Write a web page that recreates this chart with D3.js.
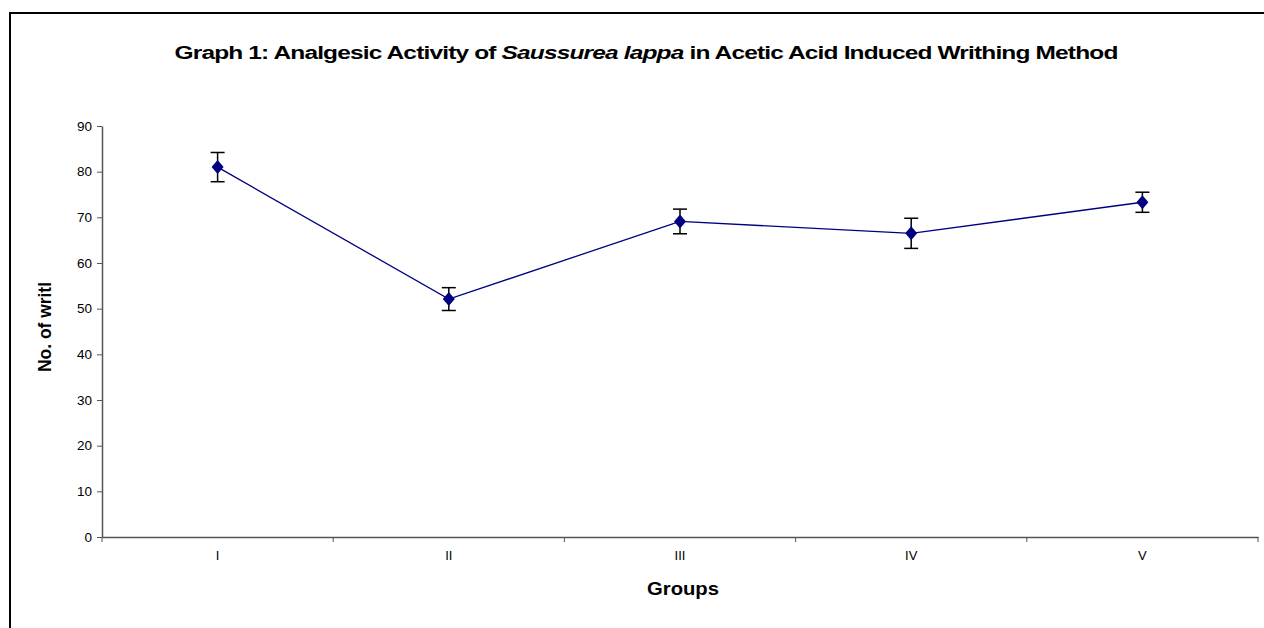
<!DOCTYPE html>
<html><head><meta charset="utf-8">
<script src="https://cdn.jsdelivr.net/npm/d3@7"></script>
<style>body{margin:0;background:#fff;} svg{display:block;font-family:"Liberation Sans",Arial,sans-serif;}</style>
</head><body>
<svg id="c" width="1264" height="628"></svg>
<script>
const categories = ["I","II","III","IV","V"];
const values = [81.0, 52.1, 69.1, 66.5, 73.3];
const errors = [3.2, 2.5, 2.7, 3.3, 2.2];
const yTicks = [0,10,20,30,40,50,60,70,80,90];

(function(){
const svg = d3.select("#c");
// outer frame
svg.append("path").attr("d","M10,1000 V13 H1300").attr("fill","none").attr("stroke","#000").attr("stroke-width",2);

const pL=102, pR=1258, pT=126, pB=537;
const x = d3.scaleBand().domain(categories).range([pL,pR]);
const y = d3.scaleLinear().domain([0,90]).range([pB,pT]);

// y axis
const ya = svg.append("g").attr("transform",`translate(${pL},0)`)
  .call(d3.axisLeft(y).tickValues(yTicks).tickSize(5).tickPadding(5).tickSizeOuter(0));
ya.select(".domain").attr("stroke","#555").attr("stroke-width",1.5);
ya.selectAll(".tick line").attr("stroke","#555");
ya.selectAll("text").attr("font-size",13.5).attr("fill","#000").attr("font-family","Liberation Sans, Arial, sans-serif");

// x axis
const xa = svg.append("g").attr("transform",`translate(0,${pB})`)
  .call(d3.axisBottom(x).tickSize(0).tickPadding(14));
xa.select(".domain").attr("stroke","#555").attr("stroke-width",1.5);
xa.selectAll("text").attr("font-size",13).attr("fill","#000").attr("font-family","Liberation Sans, Arial, sans-serif");
// category boundary ticks
const bounds = categories.map(c=>x(c)).concat([pR]);
svg.append("g").selectAll("line").data(bounds).join("line")
  .attr("x1",d=>d).attr("x2",d=>d).attr("y1",pB).attr("y2",pB+5)
  .attr("stroke","#555").attr("stroke-width",1);

const cx = c => x(c)+x.bandwidth()/2;
// line
svg.append("path").datum(values)
  .attr("d", d3.line().x((d,i)=>cx(categories[i])).y(d=>y(d)))
  .attr("fill","none").attr("stroke","#000080").attr("stroke-width",1.3);

// error bars
const eb = svg.append("g").attr("stroke","#000").attr("stroke-width",1.5);
values.forEach((v,i)=>{
  const X = cx(categories[i]);
  eb.append("line").attr("x1",X).attr("x2",X).attr("y1",y(v+errors[i])).attr("y2",y(v-errors[i]));
  eb.append("line").attr("x1",X-7).attr("x2",X+7).attr("y1",y(v+errors[i])).attr("y2",y(v+errors[i]));
  eb.append("line").attr("x1",X-7).attr("x2",X+7).attr("y1",y(v-errors[i])).attr("y2",y(v-errors[i]));
});

// markers
svg.append("g").selectAll("path").data(values).join("path")
  .attr("transform",(d,i)=>`translate(${cx(categories[i])},${y(d)})`)
  .attr("d","M0,-7 L6,0 L0,7 L-6,0 Z").attr("fill","#000080");

// title
const t = svg.append("text").attr("x",646).attr("y",59).attr("text-anchor","middle")
  .attr("font-size",17.5).attr("font-weight","bold").attr("letter-spacing",-0.6)
  .attr("textLength",943).attr("lengthAdjust","spacingAndGlyphs");
t.append("tspan").text("Graph 1: Analgesic Activity of ");
t.append("tspan").attr("font-style","italic").text("Saussurea lappa");
t.append("tspan").text(" in Acetic Acid Induced Writhing Method");

// axis titles
svg.append("text").attr("x",683).attr("y",595).attr("text-anchor","middle")
  .attr("font-size",17.5).attr("font-weight","bold")
  .attr("textLength",72).attr("lengthAdjust","spacingAndGlyphs").text("Groups");
svg.append("text").attr("transform","translate(51,327) rotate(-90)").attr("text-anchor","middle")
  .attr("font-size",17.5).attr("font-weight","bold")
  .attr("textLength",90).attr("lengthAdjust","spacingAndGlyphs").text("No. of writl");
})();
</script>
</body></html>
